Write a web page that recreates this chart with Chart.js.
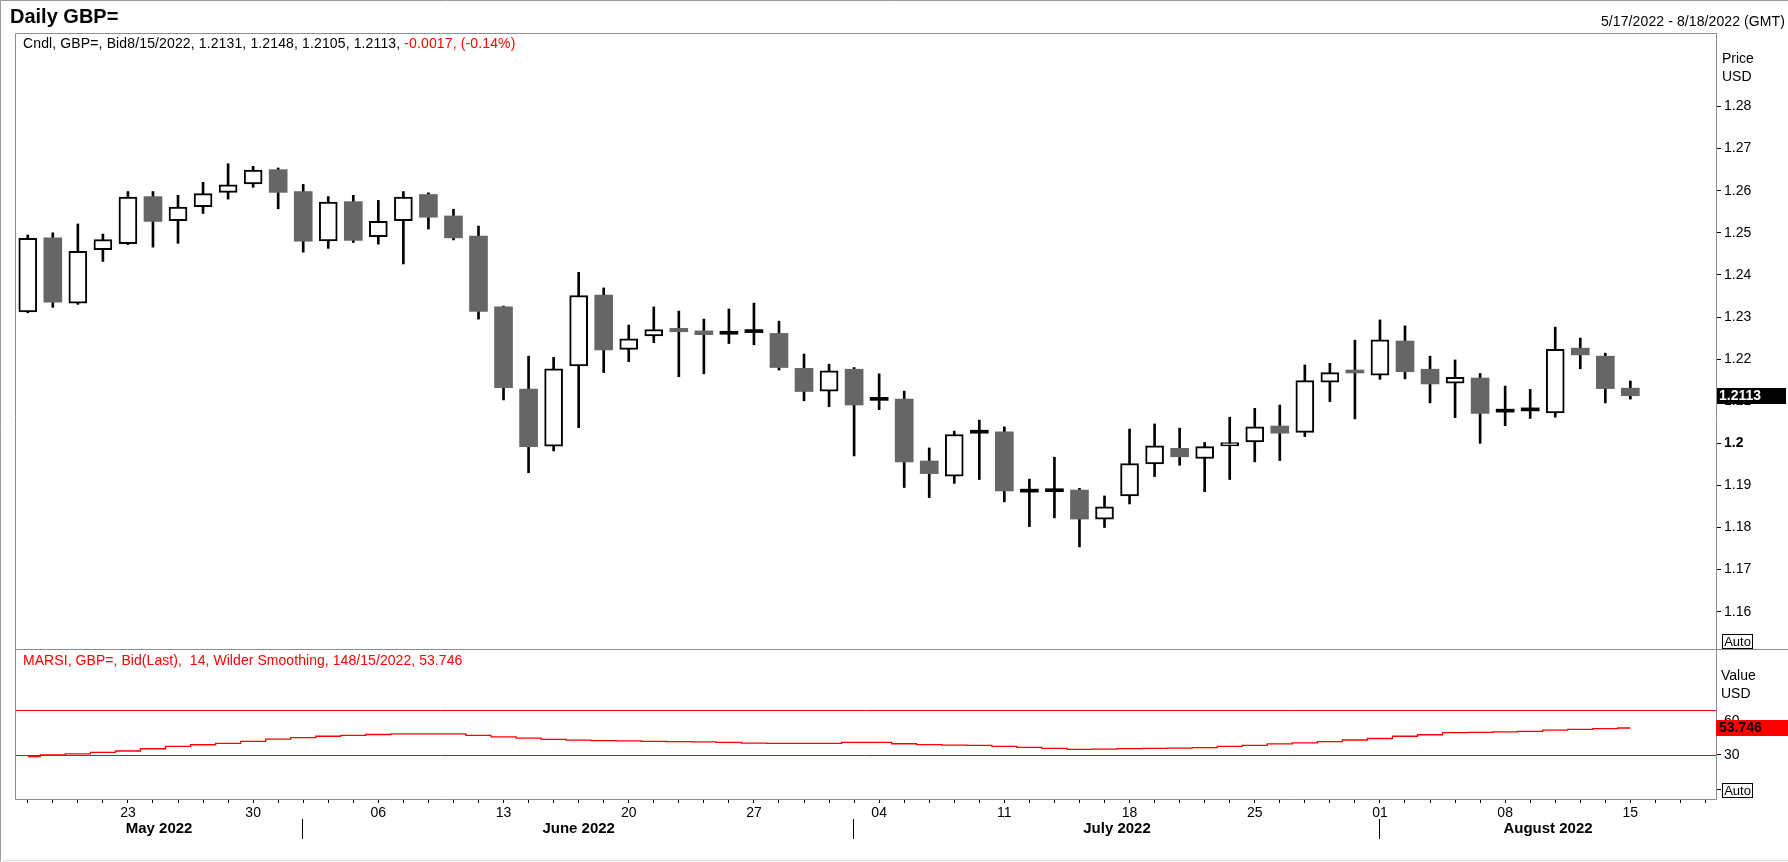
<!DOCTYPE html>
<html>
<head>
<meta charset="utf-8">
<script src="https://cdn.jsdelivr.net/npm/chart.js@4.4.0/dist/chart.umd.min.js"></script>
<style>
html,body{margin:0;padding:0;background:#fff;}
#wrap{position:relative;width:1788px;height:862px;overflow:hidden;font-family:"Liberation Sans",Arial,sans-serif;color:#000;}
#c{position:absolute;left:0;top:0;}
.t{position:absolute;white-space:pre;line-height:1;}
.auto{position:absolute;left:1722px;width:29px;height:13px;border:1px solid #000;background:#fff;font-size:13px;line-height:13px;text-align:center;}
</style>
</head>
<body>
<div id="wrap">
<canvas id="c" width="1788" height="862"></canvas>
<div class="t" id="title" style="left:10px;top:6px;font-size:20px;font-weight:bold">Daily GBP=</div>
<div class="t" id="range" style="right:3px;top:14px;font-size:14px;letter-spacing:0.1px"></div>
<div class="t" id="legend1" style="left:23px;top:36px;font-size:14px;letter-spacing:0.13px"></div>
<div class="t" id="legend2" style="left:23px;top:653px;font-size:14px;letter-spacing:0.06px;color:#f00"></div>
<div class="t" style="left:1722px;top:51px;font-size:14px">Price</div>
<div class="t" style="left:1722px;top:69px;font-size:14px">USD</div>
<div class="t" style="left:1721px;top:668px;font-size:14px">Value</div>
<div class="t" style="left:1721px;top:686px;font-size:14px">USD</div>
<div class="auto" style="top:634px">Auto</div>
<div class="auto" style="top:783px">Auto</div>
</div>
<script>
// ---------- DATA ----------
const DATES = [
  '2022-05-17','2022-05-18','2022-05-19','2022-05-20',
  '2022-05-23','2022-05-24','2022-05-25','2022-05-26','2022-05-27',
  '2022-05-30','2022-05-31','2022-06-01','2022-06-02','2022-06-03',
  '2022-06-06','2022-06-07','2022-06-08','2022-06-09','2022-06-10',
  '2022-06-13','2022-06-14','2022-06-15','2022-06-16','2022-06-17',
  '2022-06-20','2022-06-21','2022-06-22','2022-06-23','2022-06-24',
  '2022-06-27','2022-06-28','2022-06-29','2022-06-30','2022-07-01',
  '2022-07-04','2022-07-05','2022-07-06','2022-07-07','2022-07-08',
  '2022-07-11','2022-07-12','2022-07-13','2022-07-14','2022-07-15',
  '2022-07-18','2022-07-19','2022-07-20','2022-07-21','2022-07-22',
  '2022-07-25','2022-07-26','2022-07-27','2022-07-28','2022-07-29',
  '2022-08-01','2022-08-02','2022-08-03','2022-08-04','2022-08-05',
  '2022-08-08','2022-08-09','2022-08-10','2022-08-11','2022-08-12',
  '2022-08-15','2022-08-16','2022-08-17','2022-08-18'
];
const OPEN = [
  1.2312,1.2488,1.2333,1.2460,1.2474,1.2586,1.2529,1.2562,1.2596,1.2616,
  1.2650,1.2598,1.2481,1.2574,1.2491,1.2529,1.2591,1.2540,1.2492,1.2324,
  1.2129,1.1993,1.2184,1.2352,1.2223,1.2255,1.2273,1.2267,1.2259,1.2263,
  1.2261,1.2178,1.2124,1.2176,1.2102,1.2105,1.1958,1.1922,1.2024,1.2027,
  1.1884,1.1885,1.1889,1.1820,1.1875,1.1951,1.1988,1.1964,1.1994,1.2003,
  1.2041,1.2026,1.2145,1.2171,1.2162,1.2243,1.2176,1.2143,1.2155,1.2074,
  1.2077,1.2072,1.2226,1.2207,1.2131
];
const HIGH = [
  1.2495,1.2500,1.2521,1.2497,1.2598,1.2598,1.2589,1.2620,1.2664,1.2658,
  1.2654,1.2615,1.2586,1.2589,1.2577,1.2598,1.2595,1.2556,1.2516,1.2326,
  1.2207,1.2204,1.2406,1.2369,1.2281,1.2324,1.2314,1.2295,1.2319,1.2333,
  1.2290,1.2212,1.2188,1.2180,1.2165,1.2124,1.1989,1.2029,1.2055,1.2039,
  1.1915,1.1967,1.1893,1.1875,1.2034,1.2046,1.2036,1.2002,1.2062,1.2083,
  1.2091,1.2186,1.2190,1.2245,1.2293,1.2279,1.2207,1.2198,1.2166,1.2136,
  1.2128,1.2276,1.2250,1.2214,1.2148
];
const LOW = [
  1.2310,1.2323,1.2330,1.2432,1.2472,1.2466,1.2475,1.2546,1.2580,1.2608,
  1.2557,1.2454,1.2463,1.2477,1.2473,1.2426,1.2509,1.2483,1.2295,1.2103,
  1.1930,1.1982,1.2037,1.2168,1.2194,1.2239,1.2158,1.2165,1.2237,1.2234,
  1.2174,1.2101,1.2087,1.1970,1.2080,1.1895,1.1871,1.1905,1.1914,1.1861,
  1.1802,1.1823,1.1754,1.1800,1.1856,1.1921,1.1948,1.1885,1.1914,1.1956,
  1.1959,1.2016,1.2099,1.2058,1.2152,1.2153,1.2096,1.2061,1.2000,1.2042,
  1.2059,1.2062,1.2177,1.2096,1.2105
];
const CLOSE = [
  1.2487,1.2335,1.2456,1.2484,1.2585,1.2527,1.2561,1.2593,1.2614,1.2649,
  1.2596,1.2480,1.2573,1.2482,1.2527,1.2585,1.2537,1.2488,1.2313,1.2132,
  1.1992,1.2177,1.2351,1.2222,1.2248,1.2270,1.2265,1.2258,1.2259,1.2263,
  1.2180,1.2123,1.2172,1.2091,1.2102,1.1956,1.1928,1.2021,1.2024,1.1887,
  1.1884,1.1885,1.1820,1.1849,1.1952,1.1994,1.1968,1.1992,1.2002,1.2039,
  1.2024,1.2149,1.2168,1.2167,1.2246,1.2170,1.2141,1.2157,1.2071,1.2074,
  1.2077,1.2223,1.2210,1.2130,1.2113
];
const RSI = [
  28.5,30.0,31.0,32.3,33.5,35.5,37.5,39.0,40.3,42.0,
  44.0,45.2,46.5,47.3,48.0,48.5,48.5,48.5,47.3,46.0,
  44.8,43.8,43.0,42.7,42.4,42.0,41.8,41.5,41.1,40.5,
  40.3,40.3,40.3,41.1,41.1,39.9,39.2,38.7,38.5,37.6,
  36.7,35.9,35.0,35.2,35.6,35.8,36.0,36.5,37.5,38.5,
  39.7,40.6,41.7,43.2,44.5,46.5,47.8,49.6,49.8,50.3,
  50.8,51.8,52.5,53.2,53.746
];
const PRICE_TICKS = [1.16,1.17,1.18,1.19,1.2,1.21,1.22,1.23,1.24,1.25,1.26,1.27,1.28];
const RSI_TICKS = [0,30,60];
const RSI_LEVELS = [70,30];

// ---------- CONFIG ----------
const FONT = '"Liberation Sans", Arial, sans-serif';
Chart.defaults.font.family = FONT;
const X_MIN = -0.51, X_MAX = 67.42;
const PRICE_MIN = 1.15114, PRICE_MAX = 1.29746;
const RSI_MIN = -8.7, RSI_MAX = 123.2;

const last = CLOSE.length - 1;
function mdY(s){ const [y,m,d] = s.split('-'); return (+m)+'/'+(+d)+'/'+y; }
const chg = CLOSE[last] - CLOSE[last-1];
const pct = chg / CLOSE[last-1] * 100;
document.getElementById('range').textContent = mdY(DATES[0]) + ' - ' + mdY(DATES[DATES.length-1]) + ' (GMT)';
document.getElementById('legend1').innerHTML = 'Cndl, GBP=, Bid' + mdY(DATES[last]) + ', ' +
  [OPEN[last],HIGH[last],LOW[last],CLOSE[last]].map(v=>v.toFixed(4)).join(', ') + ', ' +
  '<span style="color:#f00">' + chg.toFixed(4) + ', (' + pct.toFixed(2) + '%)</span>';
document.getElementById('legend2').textContent = 'MARSI, GBP=, Bid(Last),  14, Wilder Smoothing, 14' + mdY(DATES[last]) + ', ' + RSI[last].toFixed(3);

const idx = OPEN.map((_, i) => i);
const kind = idx.map(i => Math.abs(CLOSE[i] - OPEN[i]) < 1e-6 ? 'doji' : (CLOSE[i] > OPEN[i] ? 'up' : 'down'));
const MONTHS = ['January','February','March','April','May','June','July','August','September','October','November','December'];

function dayLabel(v){
  const d = DATES[v];
  if (!d) return '';
  const dt = new Date(d + 'T00:00:00Z');
  return dt.getUTCDay() === 1 ? d.slice(8,10) : '';
}

const decor = {
  id: 'decor',
  beforeDatasetsDraw(chart){
    const {ctx, chartArea: ca, scales} = chart;
    ctx.save();
    ctx.strokeStyle = '#ff0000';
    ctx.lineWidth = 1;
    RSI_LEVELS.forEach(v => {
      const y = Math.round(scales.rsi.getPixelForValue(v)) + 0.5;
      ctx.beginPath(); ctx.moveTo(ca.left, y); ctx.lineTo(ca.right, y); ctx.stroke();
    });
    ctx.restore();
  },
  afterDraw(chart){
    const {ctx, chartArea: ca, scales, width, height} = chart;
    ctx.save();
    // outer border
    ctx.strokeStyle = '#9a9a9a'; ctx.lineWidth = 1;
    ctx.beginPath(); ctx.moveTo(0.5, height); ctx.lineTo(0.5, 0.5); ctx.lineTo(width, 0.5); ctx.stroke();
    ctx.strokeStyle = '#dcdcdc';
    ctx.beginPath(); ctx.moveTo(0, height-1.5); ctx.lineTo(width, height-1.5); ctx.stroke();
    // panel frames
    ctx.strokeStyle = '#8c8c8c';
    const L = Math.round(ca.left) + 0.5, R = Math.round(ca.right) + 0.5;
    const T = Math.round(scales.y.top) + 0.5, M = Math.round(scales.y.bottom) + 0.5, B = Math.round(scales.rsi.bottom) + 0.5;
    ctx.beginPath();
    ctx.moveTo(L, T); ctx.lineTo(R, T); ctx.lineTo(R, B); ctx.lineTo(L, B); ctx.closePath();
    ctx.moveTo(L, M); ctx.lineTo(width, M);
    ctx.stroke();
    // price marker
    const py = scales.y.getPixelForValue(CLOSE[last]);
    ctx.fillStyle = '#000';
    ctx.fillRect(Math.round(ca.right)+1, Math.round(py)-8, width - Math.round(ca.right) - 3, 16);
    ctx.fillStyle = '#fff';
    ctx.font = 'bold 14px ' + FONT;
    ctx.textBaseline = 'middle'; ctx.textAlign = 'left';
    ctx.fillText(CLOSE[last].toFixed(4), Math.round(ca.right)+3, Math.round(py)+0.5);
    // rsi marker
    const ry = scales.rsi.getPixelForValue(RSI[last]);
    ctx.fillStyle = '#ff0000';
    ctx.fillRect(Math.round(ca.right), Math.round(ry)-8, width - Math.round(ca.right), 16);
    ctx.fillStyle = '#000';
    ctx.fillText(RSI[last].toFixed(3), Math.round(ca.right)+3, Math.round(ry)+0.5);
    // month separators and labels
    const xs = scales.x;
    const starts = [];
    DATES.forEach((d, i) => {
      const m = d.slice(0,7);
      if (i === 0 || m !== DATES[i-1].slice(0,7)) starts.push(i);
    });
    ctx.strokeStyle = '#000'; ctx.lineWidth = 1;
    ctx.font = 'bold 15px ' + FONT;
    ctx.textAlign = 'center'; ctx.textBaseline = 'middle';
    const yb = scales.x.top;
    starts.forEach((s, k) => {
      if (k > 0) {
        const x = Math.round(xs.getPixelForValue(s)) - 0.5;
        ctx.beginPath(); ctx.moveTo(x, yb + 20); ctx.lineTo(x, yb + 40); ctx.stroke();
      }
      const a = k === 0 ? X_MIN : s;
      const b = k + 1 < starts.length ? starts[k+1] : X_MAX;
      const cx = xs.getPixelForValue((a + b) / 2);
      const mo = +DATES[s].slice(5,7) - 1;
      ctx.fillStyle = '#000';
      ctx.fillText(MONTHS[mo] + ' ' + DATES[s].slice(0,4), cx, yb + 30);
    });
    ctx.restore();
  }
};

new Chart(document.getElementById('c'), {
  type: 'bar',
  data: {
    datasets: [
      {
        type: 'bar', label: 'wick', yAxisID: 'y', xAxisID: 'x',
        data: idx.map(i => ({x: i, y: [LOW[i], HIGH[i]]})),
        barThickness: 2, backgroundColor: '#000', borderWidth: 0, grouped: false, order: 3
      },
      {
        type: 'bar', label: 'body', yAxisID: 'y', xAxisID: 'x',
        data: idx.map(i => ({x: i, y: [OPEN[i], CLOSE[i]]})),
        barThickness: 18,
        backgroundColor: kind.map(k => k === 'up' ? '#ffffff' : (k === 'doji' ? '#000000' : '#666666')),
        borderColor: kind.map(k => k === 'up' ? '#000000' : (k === 'doji' ? '#000000' : '#666666')),
        borderWidth: kind.map(k => k === 'up' ? 2 : 0),
        borderSkipped: false, minBarLength: 3, grouped: false, order: 2
      },
      {
        type: 'line', label: 'rsi', yAxisID: 'rsi', xAxisID: 'x',
        data: idx.map(i => ({x: i, y: RSI[i]})),
        borderColor: '#ff0000', borderWidth: 1.3, pointRadius: 0, stepped: 'middle', order: 1
      }
    ]
  },
  options: {
    responsive: false,
    animation: false,
    devicePixelRatio: 1,
    layout: {padding: {left: 15, top: 33, right: 0, bottom: 0}},
    plugins: {legend: {display: false}, tooltip: {enabled: false}, title: {display: false}},
    scales: {
      x: {
        type: 'linear', position: 'bottom', min: X_MIN, max: X_MAX, offset: false,
        grid: {display: true, offset: false, drawOnChartArea: false, drawTicks: true, tickLength: 4, tickColor: '#000', color: '#000'},
        border: {display: false},
        afterBuildTicks: s => { s.ticks = DATES.map((d, i) => ({value: i})); },
        ticks: {autoSkip: false, maxRotation: 0, minRotation: 0, padding: 2, color: '#000', font: {size: 14}, callback: v => dayLabel(v)},
        afterFit: s => { s.height = 63; }
      },
      y: {
        type: 'linear', position: 'right', stack: 'panes', stackWeight: 616,
        min: PRICE_MIN, max: PRICE_MAX,
        grid: {display: true, drawOnChartArea: false, drawTicks: true, tickLength: 5, tickColor: '#000'},
        border: {display: false},
        afterBuildTicks: s => { s.ticks = PRICE_TICKS.map(v => ({value: v})); },
        ticks: {
          padding: 3, color: '#000',
          font: ctx => ({size: 14, family: FONT, weight: (ctx.tick && Math.abs(ctx.tick.value - 1.2) < 1e-9) ? 'bold' : 'normal'}),
          callback: v => String(+(+v).toFixed(2))
        },
        afterFit: s => { s.width = 72; }
      },
      rsi: {
        type: 'linear', position: 'right', stack: 'panes', stackWeight: 150,
        min: RSI_MIN, max: RSI_MAX,
        grid: {display: true, drawOnChartArea: false, drawTicks: true, tickLength: 5, tickColor: '#000'},
        border: {display: false},
        afterBuildTicks: s => { s.ticks = RSI_TICKS.map(v => ({value: v})); },
        ticks: {padding: 3, color: '#000', font: {size: 14}, callback: v => String(v)},
        afterFit: s => { s.width = 72; }
      }
    }
  },
  plugins: [decor]
});
</script>
</body>
</html>
